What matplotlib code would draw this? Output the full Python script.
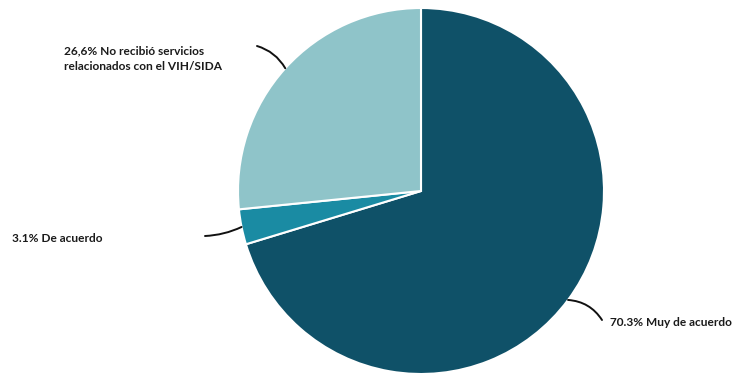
import numpy as np
import matplotlib
matplotlib.use("Agg")
import matplotlib.pyplot as plt

labels = ["Muy de acuerdo", "De acuerdo", "No recibió servicios\nrelacionados con el VIH/SIDA"]
values = [70.3, 3.1, 26.6]
colors = ["#0f5168", "#1a8ba3", "#8fc4c9"]

W, H = 734, 374
fig = plt.figure(figsize=(W / 100, H / 100), dpi=100)
ax = fig.add_axes([0, 0, 1, 1])
ax.set_xlim(0, W)
ax.set_ylim(0, H)
ax.set_aspect("equal")
ax.axis("off")

cx, cy, r = 421, 374 - 191, 183
wedges, _ = ax.pie(values, colors=colors, startangle=90, counterclock=False,
                   center=(cx, cy), radius=r, frame=True,
                   wedgeprops=dict(edgecolor="white", linewidth=1.5))
ax.set_xlim(0, W)
ax.set_ylim(0, H)
ax.axis("off")

# label placement (pixel coords, y from top)
label_pos = [(610, 322, "left"), (12, 238, "left"), (64, 59, "left")]
line_end = [(602, 320), (205, 236), (257, 46)]
rads = [0.25, 0.1, -0.2]
for w, v, lab, (tx, ty, ha), (ex, ey), rad in zip(wedges, values, labels, label_pos, line_end, rads):
    ang = np.deg2rad((w.theta1 + w.theta2) / 2)
    px, py = cx + r * np.cos(ang), cy + r * np.sin(ang)
    text = f"{v:.1f}% {lab}".replace(".", ",", 1) if v == 26.6 else f"{v:.1f}% {lab}"
    ax.annotate("", xy=(px, py), xytext=(ex, H - ey),
                arrowprops=dict(arrowstyle="-", color="#111111", lw=1.4,
                                shrinkA=0, shrinkB=0,
                                connectionstyle=f"arc3,rad={rad}"))
    ax.text(tx, H - ty, text, ha=ha, va="center", fontsize=8.6,
            fontweight="bold", family="Lato", color="#1a1a1a", linespacing=1.5)

fig.savefig("out.png", dpi=100)
